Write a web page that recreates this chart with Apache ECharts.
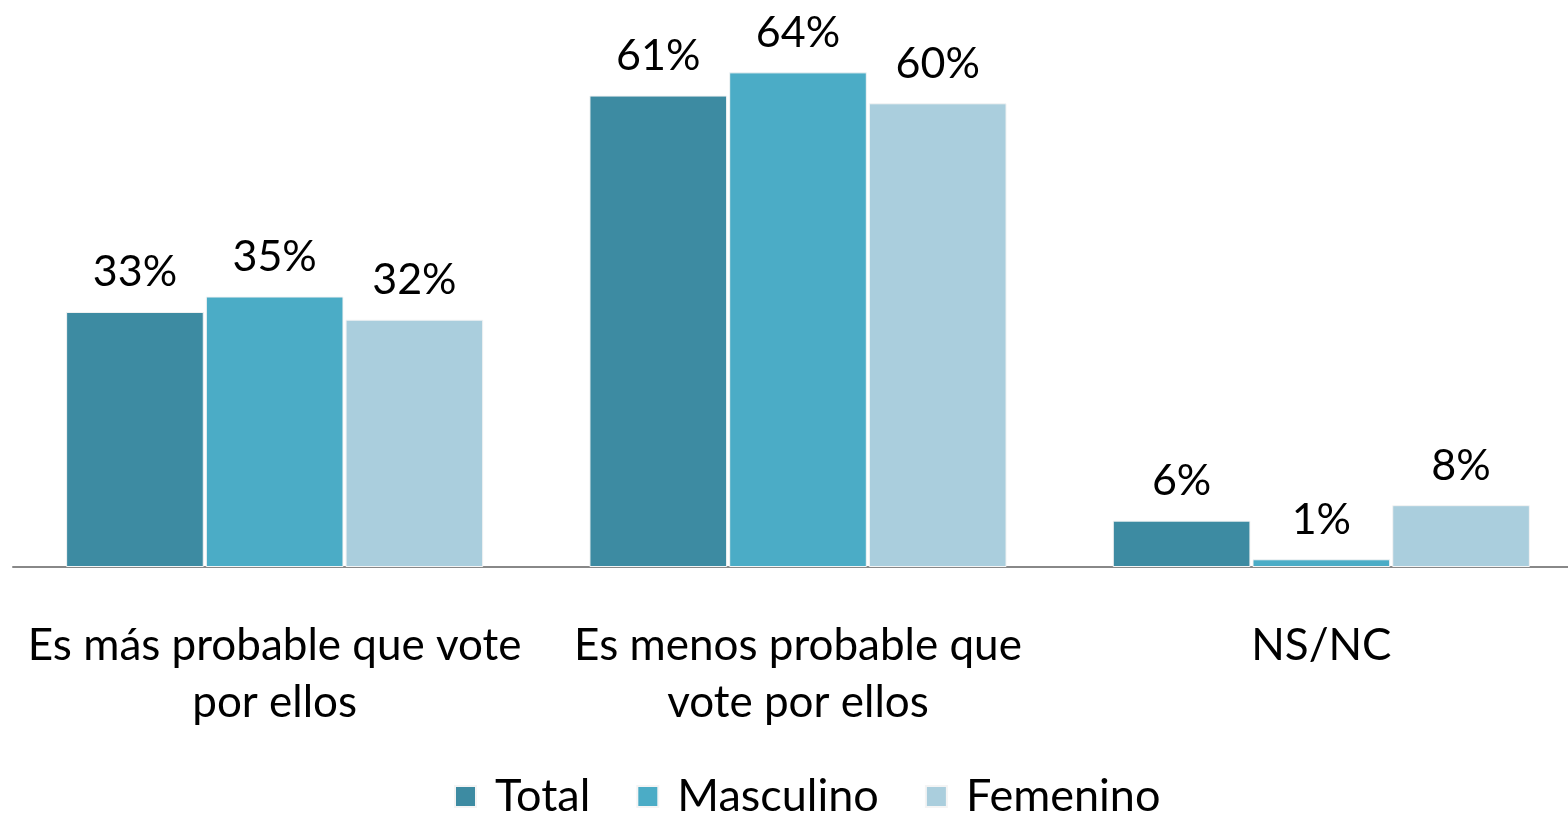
<!DOCTYPE html>
<html><head><meta charset="utf-8">
<script src="https://cdn.jsdelivr.net/npm/echarts@6/dist/echarts.min.js"></script>
<style>html,body{margin:0;padding:0;background:#fff;overflow:hidden}#c{width:1583px;height:813px}</style>
</head><body><div id="c"></div>
<script>
const categories = ['Es más probable que vote\npor ellos', 'Es menos probable que\nvote por ellos', 'NS/NC'];
const seriesNames = ['Total', 'Masculino', 'Femenino'];
const totalValues = [33, 61, 6];
const masculinoValues = [35, 64, 1];
const femeninoValues = [32, 60, 8];
const colors = ['#3D8BA2', '#4BACC6', '#AACEDD'];
const FONT = 'Lato';
const chart = echarts.init(document.getElementById('c'));
const mk = (name, data, color) => ({
  name, type: 'bar', data,
  barGap: '1.5%', barCategoryGap: '20.3%',
  itemStyle: { color, borderColor: '#f4f4f4', borderWidth: 1 },
  label: { show: true, position: 'top', distance: 18, formatter: '{c}%', color: '#000', fontFamily: FONT, fontSize: 43 }
});
chart.setOption({
  animation: false,
  textStyle: { fontFamily: FONT },
  grid: { left: 13, right: 0, top: 26, bottom: 246, containLabel: false },
  legend: {
    top: 769, left: 449, itemWidth: 21, itemHeight: 21, itemGap: 46,
    icon: 'rect',
    textStyle: { fontFamily: FONT, fontSize: 45, color: '#000', padding: [0, 0, 0, 14] },
    data: seriesNames
  },
  xAxis: {
    type: 'category', data: categories,
    axisLine: { lineStyle: { color: '#888', width: 2 } },
    axisTick: { show: false },
    axisLabel: { interval: 0, fontFamily: FONT, fontSize: 44, color: '#000', lineHeight: 57, margin: 50 }
  },
  yAxis: { type: 'value', min: 0, max: 70, show: false, splitLine: { show: false } },
  series: [
    mk(seriesNames[0], totalValues, colors[0]),
    mk(seriesNames[1], masculinoValues, colors[1]),
    mk(seriesNames[2], femeninoValues, colors[2])
  ]
});
</script></body></html>
